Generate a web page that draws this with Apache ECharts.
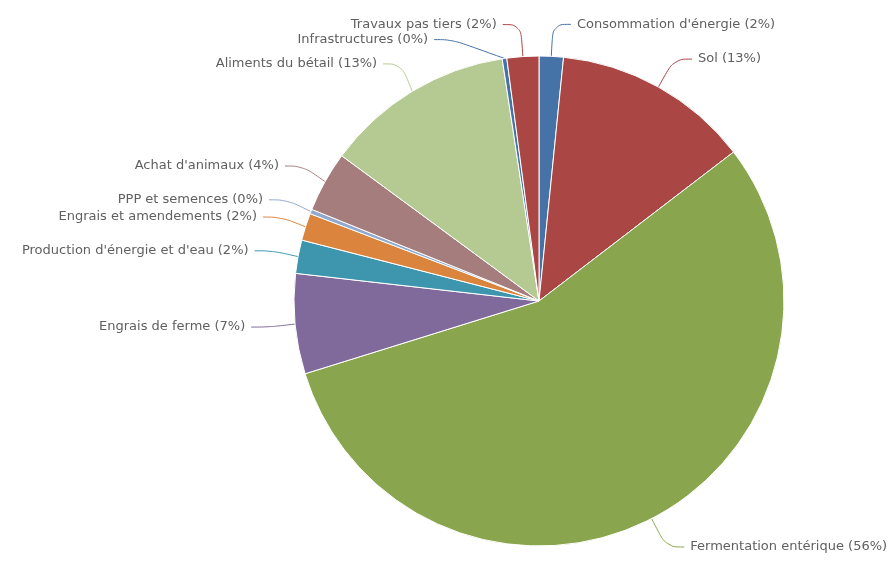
<!DOCTYPE html>
<html>
<head>
<meta charset="utf-8">
<script src="https://cdn.jsdelivr.net/npm/echarts@6/dist/echarts.min.js"></script>
<style>
  html, body { margin: 0; padding: 0; background: #fff; }
  #chart { width: 893px; height: 561px; }
</style>
</head>
<body>
<div id="chart"></div>
<script>
const categories = [
  "Consommation d'énergie",
  'Sol',
  'Fermentation entérique',
  'Engrais de ferme',
  "Production d'énergie et d'eau",
  'Engrais et amendements',
  'PPP et semences',
  "Achat d'animaux",
  'Aliments du bétail',
  'Infrastructures',
  'Travaux pas tiers'
];
const values = [1.6, 13.0, 55.6, 6.6, 2.2, 1.8, 0.3, 4.0, 12.5, 0.3, 2.1];
const colors = ['#4572A7', '#AA4643', '#89A54E', '#80699B', '#3D96AE', '#DB843D', '#92A8CD', '#A47D7C', '#B5CA92', '#4572A7', '#AA4643'];

const total = values.reduce((a, b) => a + b, 0);
const chart = echarts.init(document.getElementById('chart'));

chart.setOption({
  animation: false,
  series: [{
    type: 'pie',
    center: [539, 301],
    radius: 245,
    startAngle: 90,
    clockwise: true,
    data: categories.map((name, i) => ({
      name: name,
      value: values[i],
      itemStyle: { color: colors[i] }
    })),
    itemStyle: { borderColor: '#fff', borderWidth: 1 },
    label: {
      show: true,
      position: 'outside',
      fontFamily: 'DejaVu Sans',
      fontSize: 13,
      color: '#606060',
      overflow: 'none',
      padding: [7, 0],
      distanceToLabelLine: 6,
      formatter: p => p.name + ' (' + Math.round(p.value / total * 100) + '%)'
    },
    labelLine: {
      show: true,
      length: 32,
      length2: 18,
      smooth: 0.4,
      lineStyle: { width: 1 }
    },
    emphasis: { disabled: true }
  }]
});
</script>
</body>
</html>
